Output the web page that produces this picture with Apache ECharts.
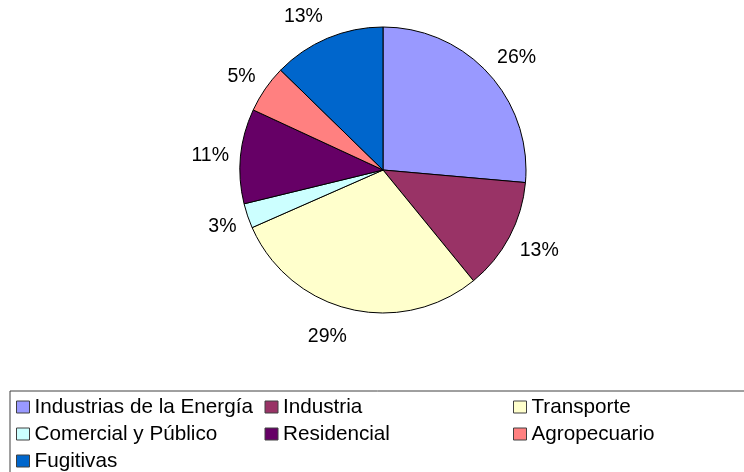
<!DOCTYPE html>
<html>
<head>
<meta charset="utf-8">
<script src="https://cdn.jsdelivr.net/npm/echarts@6/dist/echarts.min.js"></script>
<style>html,body{margin:0;padding:0;background:#fff}#c{width:744px;height:472px}</style>
</head>
<body>
<div id="c"></div>
<script>
const categories = ['Industrias de la Energía','Industria','Transporte','Comercial y Público','Residencial','Agropecuario','Fugitivas'];
const values = [26.4, 12.7, 29.3, 2.8, 10.7, 5.4, 12.7];
const colors = ['#9999FF','#993366','#FFFFCC','#CCFFFF','#660066','#FF8080','#0066CC'];

const chart = echarts.init(document.getElementById('c'), null, {renderer:'canvas'});
const fontFamily = '"Liberation Sans", Arial, sans-serif';
const CX = 383, CY = 170, PIE_R = 143, RING_MID = 170;
const mainData = categories.map((n,i)=>({name:n, value:values[i], itemStyle:{color:colors[i]}}));
const labelData = categories.map((n,i)=>({name:n, value:values[i]}));

chart.setOption({
  animation:false,
  legend:{
    left:10, top:391,
    padding:[2.5,0,10,6],
    width:760,
    orient:'horizontal',
    borderColor:'#404040', borderWidth:1,
    itemWidth:13, itemHeight:12, itemGap:0,
    icon:'rect',
    itemStyle:{borderColor:'#404040', borderWidth:1},
    textStyle:{fontFamily:fontFamily, fontSize:20.7, color:'#000', width:230, lineHeight:27},
    data:categories,
    selectedMode:false
  },
  series:[
    {
      type:'pie',
      center:[CX,CY],
      radius:[0,PIE_R],
      startAngle:90,
      clockwise:true,
      avoidLabelOverlap:false,
      label:{show:false},
      labelLine:{show:false},
      itemStyle:{borderColor:'#000', borderWidth:1},
      emphasis:{disabled:true},
      data:mainData
    },
    {
      type:'pie',
      center:[CX,CY],
      radius:[RING_MID-10,RING_MID+10],
      startAngle:90,
      clockwise:true,
      silent:true,
      avoidLabelOverlap:false,
      itemStyle:{color:'rgba(0,0,0,0)', borderWidth:0},
      label:{show:true, position:'inside', fontFamily:fontFamily, fontSize:19.5, color:'#000',
        formatter:p=>Math.round(p.value)+'%'},
      labelLine:{show:false},
      labelLayout:function(p){
        const r = p.labelRect;
        const mx = r.x + r.width/2, my = r.y + r.height/2;
        const ux = (mx-CX)/RING_MID, uy = (my-CY)/RING_MID;
        return {
          x: CX + (PIE_R+9)*ux + Math.sign(ux)*r.width/2,
          y: CY + (PIE_R+23)*uy + 2,
          align:'center', verticalAlign:'middle'
        };
      },
      emphasis:{disabled:true},
      data:labelData
    }
  ]
});
</script>
</body>
</html>
